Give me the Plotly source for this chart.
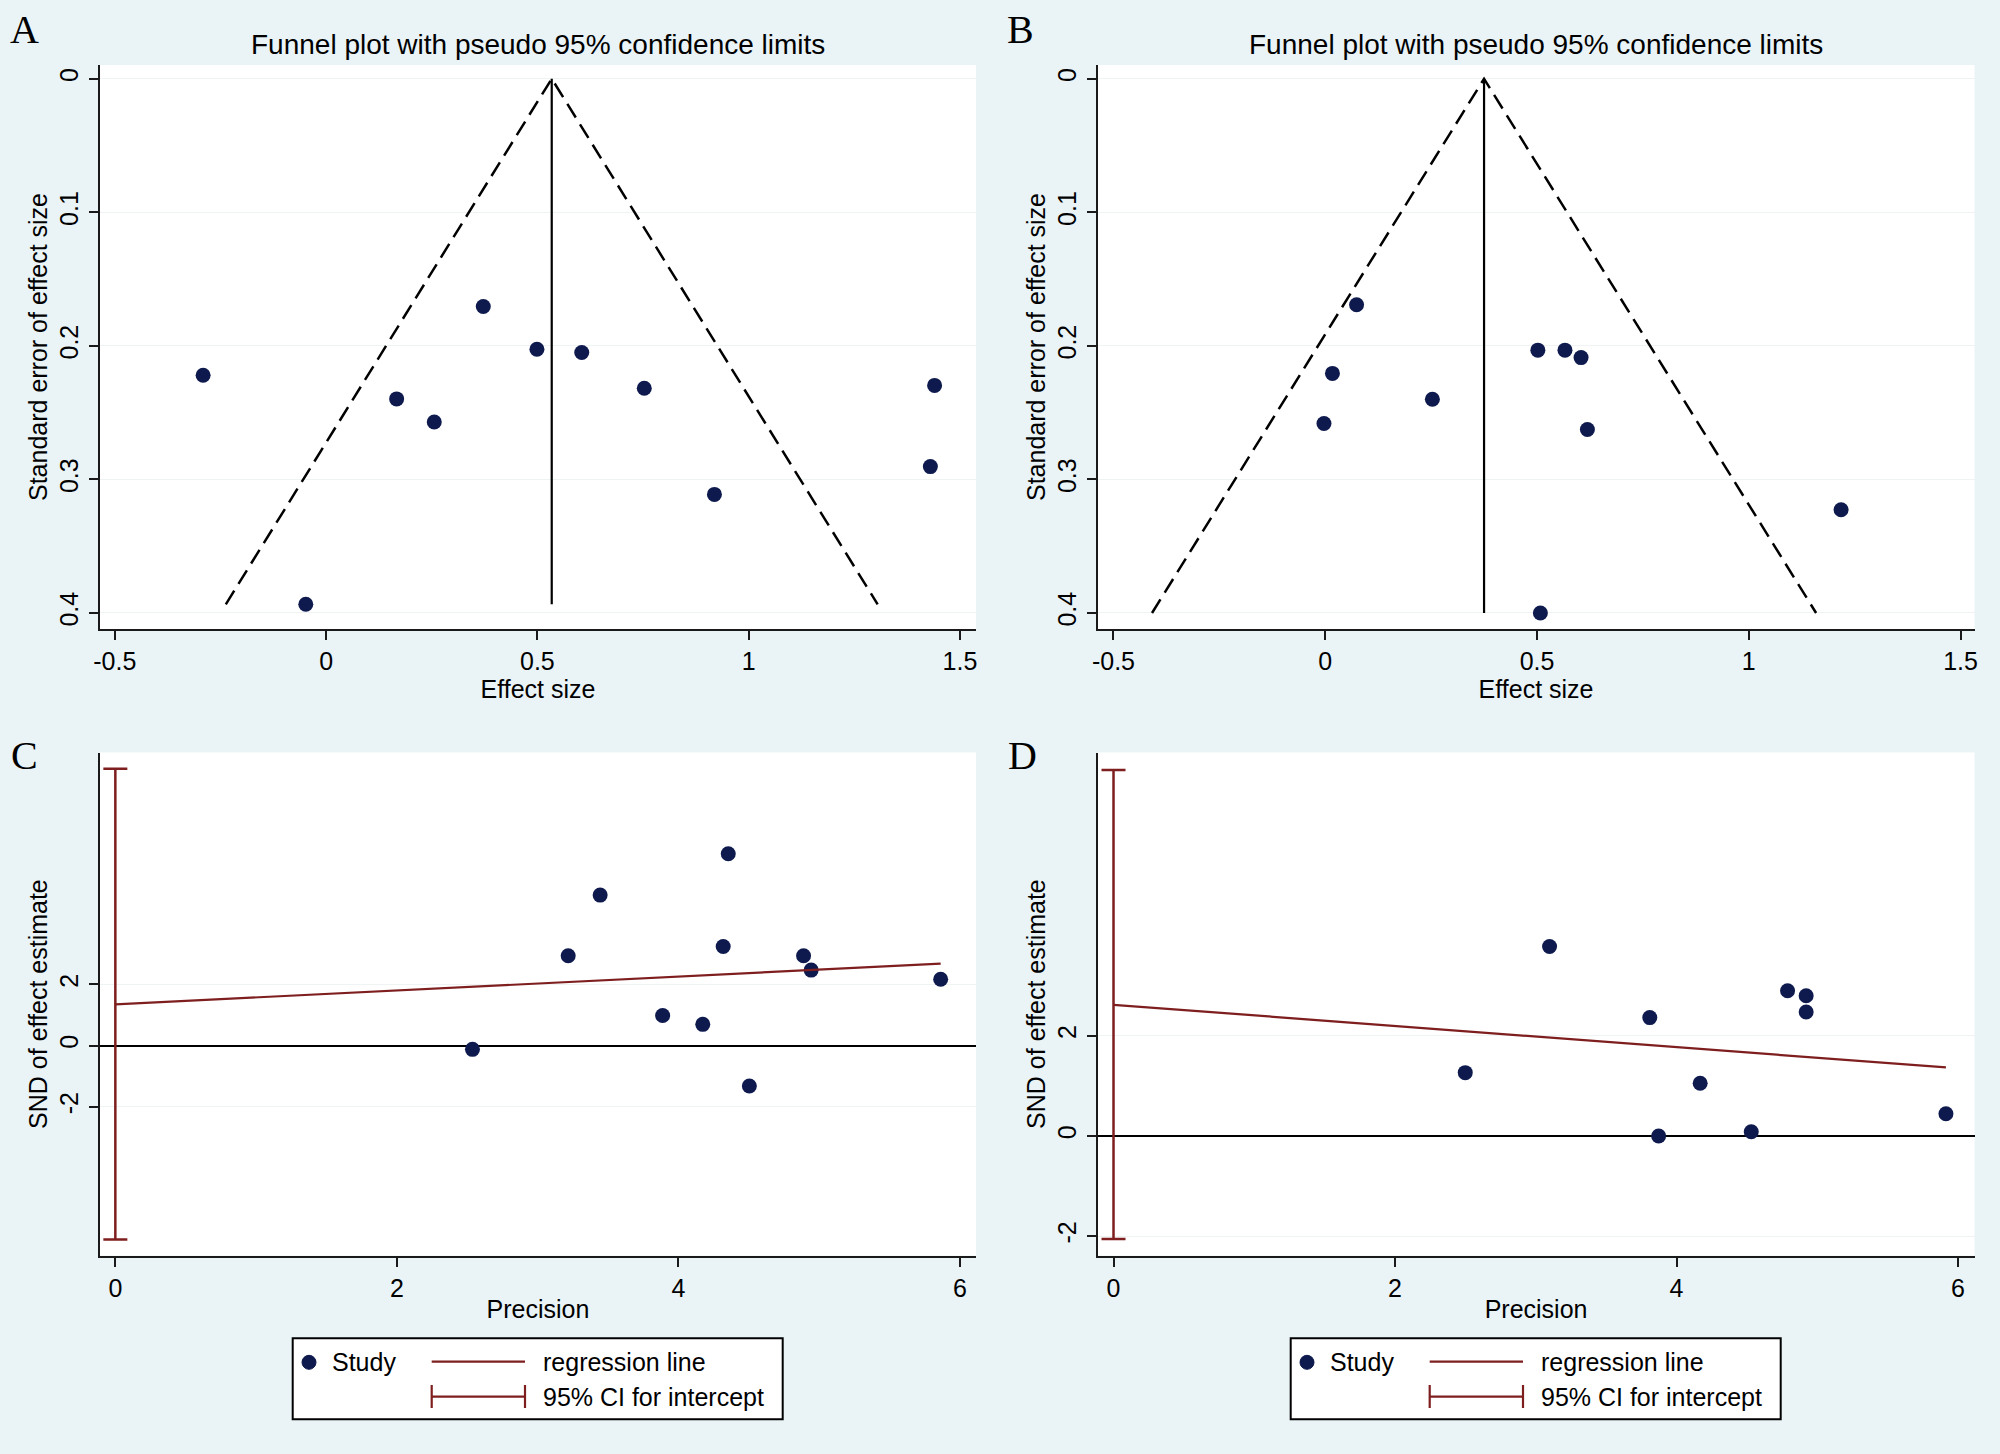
import plotly.graph_objects as go

# ---------------- data ----------------
# Panel A: funnel plot
a_effect = [-0.291, 0.372, 0.499, 0.605, 0.753, 0.167, 0.256, 0.919, -0.048, 1.440, 1.430]
a_se = [0.222, 0.1705, 0.2025, 0.205, 0.2317, 0.2397, 0.257, 0.3112, 0.3935, 0.2296, 0.2904]
a_pooled = 0.534

# Panel B: funnel plot
b_effect = [0.074, 0.502, 0.566, 0.604, 0.017, 0.253, -0.003, 0.619, 1.218, 0.508]
b_se = [0.1692, 0.2032, 0.2032, 0.2088, 0.2206, 0.240, 0.2581, 0.2626, 0.3227, 0.400]
b_pooled = 0.375

# Panel C: Egger plot
c_precision = [2.537, 3.217, 3.444, 3.888, 4.173, 4.318, 4.354, 4.504, 4.889, 4.943, 5.863]
c_snd = [-0.12, 2.94, 4.92, 0.985, 0.697, 3.24, 6.27, -1.32, 2.94, 2.47, 2.17]
c_intercept = 1.35
c_slope = 0.227
c_ci = [-6.33, 9.05]

# Panel D: Egger plot
d_precision = [2.499, 3.098, 3.810, 3.873, 4.168, 4.531, 4.789, 4.921, 4.921, 5.914]
d_snd = [1.265, 3.786, 2.364, 0.0, 1.053, 0.083, 2.90, 2.80, 2.475, 0.443]
d_intercept = 2.62
d_slope = -0.2115
d_ci = [-2.06, 7.31]

# ticks
funnel_xticks = [-0.5, 0, 0.5, 1, 1.5]
funnel_xticktext = ["-0.5", "0", "0.5", "1", "1.5"]
funnel_yticks = [0, 0.1, 0.2, 0.3, 0.4]
funnel_yticktext = ["0", "0.1", "0.2", "0.3", "0.4"]
egger_xticks = [0, 2, 4, 6]
egger_xticktext = ["0", "2", "4", "6"]
egger_yticks = [-2, 0, 2]
egger_yticktext = ["-2", "0", "2"]

panel_letters = ["A", "B", "C", "D"]
funnel_title = "Funnel plot with pseudo 95% confidence limits"
legend_labels = ["Study", "regression line", "95% CI for intercept"]

# ---------------- style ----------------
W, H = 2000, 1454
BG = "#EAF4F7"
NAVY = "#0E1A4E"
MAROON = "#7E1E1E"
AXC = "#1A1A1A"
GRID = "#EFF3F4"
FONT = "Liberation Sans, Arial, sans-serif"
SERIF = "Liberation Serif, Times New Roman, serif"


def px(x):
    return x / W


def py(y):
    return 1 - y / H


fig = go.Figure()


def funnel(effect, se, pooled, xa, ya):
    se_max = max(se)
    fig.add_trace(go.Scatter(x=effect, y=se, mode="markers", xaxis=xa, yaxis=ya,
                             marker=dict(color=NAVY, size=15), showlegend=False))
    # pseudo 95% confidence limits
    fig.add_trace(go.Scatter(x=[pooled - 1.96 * se_max, pooled, pooled + 1.96 * se_max],
                             y=[se_max, 0, se_max], mode="lines", xaxis=xa, yaxis=ya,
                             line=dict(color="black", width=2.5, dash="16px,8px"), showlegend=False))
    fig.add_trace(go.Scatter(x=[pooled, pooled], y=[0, se_max], mode="lines", xaxis=xa, yaxis=ya,
                             line=dict(color="black", width=2.2), showlegend=False))


def egger(prec, snd, intercept, slope, ci, xa, ya):
    fig.add_trace(go.Scatter(x=prec, y=snd, mode="markers", xaxis=xa, yaxis=ya,
                             marker=dict(color=NAVY, size=15), showlegend=False))
    pmax = max(prec)
    fig.add_trace(go.Scatter(x=[0, pmax], y=[intercept, intercept + slope * pmax], mode="lines",
                             xaxis=xa, yaxis=ya, line=dict(color=MAROON, width=2.2), showlegend=False))
    mid = (ci[0] + ci[1]) / 2
    fig.add_trace(go.Scatter(x=[0], y=[mid], mode="markers", xaxis=xa, yaxis=ya,
                             marker=dict(size=1, color="rgba(0,0,0,0)"), showlegend=False,
                             error_y=dict(type="data", symmetric=False, array=[ci[1] - mid],
                                          arrayminus=[mid - ci[0]], color=MAROON, thickness=2.5,
                                          width=12)))


funnel(a_effect, a_se, a_pooled, "x", "y")
funnel(b_effect, b_se, b_pooled, "x2", "y2")
egger(c_precision, c_snd, c_intercept, c_slope, c_ci, "x3", "y3")
egger(d_precision, d_snd, d_intercept, d_slope, d_ci, "x4", "y4")

top_y = [py(629), py(65)]
bot_y = [py(1255.6), py(752.5)]
left_x = [px(100), px(976)]
right_x = [px(1097.6), px(1974.5)]

common_axis = dict(showline=True, linecolor=AXC, linewidth=2, ticks="outside", ticklen=9,
                   tickwidth=2, tickcolor=AXC, tickfont=dict(family=FONT, size=25, color="black"),
                   automargin=False, zeroline=False, showgrid=False)
xcommon = dict(common_axis, title=dict(font=dict(family=FONT, size=25, color="black"), standoff=0))
ycommon = dict(common_axis, showgrid=True, gridcolor=GRID, gridwidth=1, tickangle=-90,
               ticklabelstandoff=1,
               title=dict(font=dict(family=FONT, size=25, color="black"), standoff=0))

layout = dict(
    width=W, height=H, margin=dict(l=0, r=0, t=0, b=0),
    paper_bgcolor=BG, plot_bgcolor="white", showlegend=False,
    font=dict(family=FONT, size=24, color="black"),
    xaxis=dict(xcommon, domain=left_x, anchor="y", range=[-0.535, 1.538],
               tickvals=funnel_xticks, ticktext=funnel_xticktext,
               title=dict(xcommon["title"], text="Effect size")),
    yaxis=dict(ycommon, domain=top_y, anchor="x", range=[0.412, -0.0103],
               tickvals=funnel_yticks, ticktext=funnel_yticktext,
               title=dict(ycommon["title"], text="Standard error of effect size")),
    xaxis2=dict(xcommon, domain=right_x, anchor="y2", range=[-0.5375, 1.533],
                tickvals=funnel_xticks, ticktext=funnel_xticktext,
                title=dict(xcommon["title"], text="Effect size")),
    yaxis2=dict(ycommon, domain=top_y, anchor="x2", range=[0.412, -0.0103],
                tickvals=funnel_yticks, ticktext=funnel_yticktext,
                title=dict(ycommon["title"], text="Standard error of effect size")),
    xaxis3=dict(xcommon, domain=left_x, anchor="y3", range=[-0.109, 6.114],
                tickvals=egger_xticks, ticktext=egger_xticktext,
                title=dict(xcommon["title"], text="Precision")),
    yaxis3=dict(ycommon, domain=bot_y, anchor="x3", range=[-6.86, 9.58],
                tickvals=egger_yticks, ticktext=egger_yticktext,
                zeroline=True, zerolinecolor="black", zerolinewidth=2.2,
                title=dict(ycommon["title"], text="SND of effect estimate")),
    xaxis4=dict(xcommon, domain=right_x, anchor="y4", range=[-0.113, 6.117],
                tickvals=egger_xticks, ticktext=egger_xticktext,
                title=dict(xcommon["title"], text="Precision")),
    yaxis4=dict(ycommon, domain=bot_y, anchor="x4", range=[-2.39, 7.66],
                tickvals=egger_yticks, ticktext=egger_yticktext,
                zeroline=True, zerolinecolor="black", zerolinewidth=2.2,
                title=dict(ycommon["title"], text="SND of effect estimate")),
)
fig.update_layout(**layout)

annotations = []
# funnel titles
for xa in ["x", "x2"]:
    annotations.append(dict(text=funnel_title, xref=f"{xa} domain", yref="paper", x=0.5, y=py(45),
                            xanchor="center", yanchor="middle", showarrow=False,
                            font=dict(family=FONT, size=28, color="black")))
# panel letters
for letter, (lx, ly) in zip(panel_letters, [(24, 30), (1021, 30), (24, 755), (1022, 755)]):
    annotations.append(dict(text=letter, xref="paper", yref="paper", x=px(lx), y=py(ly),
                            xanchor="center", yanchor="middle", showarrow=False,
                            font=dict(family=SERIF, size=40, color="black")))

shapes = []
for dx in [0, 998]:
    # legend box
    shapes.append(dict(type="rect", xref="paper", yref="paper", x0=px(292.7 + dx), x1=px(782.7 + dx),
                       y0=py(1419.3), y1=py(1338.3), line=dict(color="black", width=2),
                       fillcolor="white", layer="below"))
    # marker key
    shapes.append(dict(type="circle", xref="paper", yref="paper", x0=px(302 + dx), x1=px(316 + dx),
                       y0=py(1369.3), y1=py(1355.3), line=dict(color=NAVY, width=1), fillcolor=NAVY))
    # regression line key
    shapes.append(dict(type="line", xref="paper", yref="paper", x0=px(431.7 + dx), x1=px(525 + dx),
                       y0=py(1361.7), y1=py(1361.7), line=dict(color=MAROON, width=2.2)))
    # CI key
    shapes.append(dict(type="line", xref="paper", yref="paper", x0=px(431.7 + dx), x1=px(525 + dx),
                       y0=py(1396.7), y1=py(1396.7), line=dict(color=MAROON, width=2.2)))
    for cx in [431.7, 525]:
        shapes.append(dict(type="line", xref="paper", yref="paper", x0=px(cx + dx), x1=px(cx + dx),
                           y0=py(1385), y1=py(1408), line=dict(color=MAROON, width=2.2)))
    for label, (tx, ty) in zip(legend_labels, [(330, 1362), (540.7, 1362), (540.7, 1397)]):
        annotations.append(dict(text=label, xref="paper", yref="paper", x=px(tx + dx), y=py(ty),
                                xanchor="left", yanchor="middle", showarrow=False,
                                font=dict(family=FONT, size=25, color="black")))

fig.update_layout(annotations=annotations, shapes=shapes)
fig.write_html("out.html", config={"displayModeBar": False},
               post_script="document.body.style.margin='0';document.body.style.overflow='hidden';")
